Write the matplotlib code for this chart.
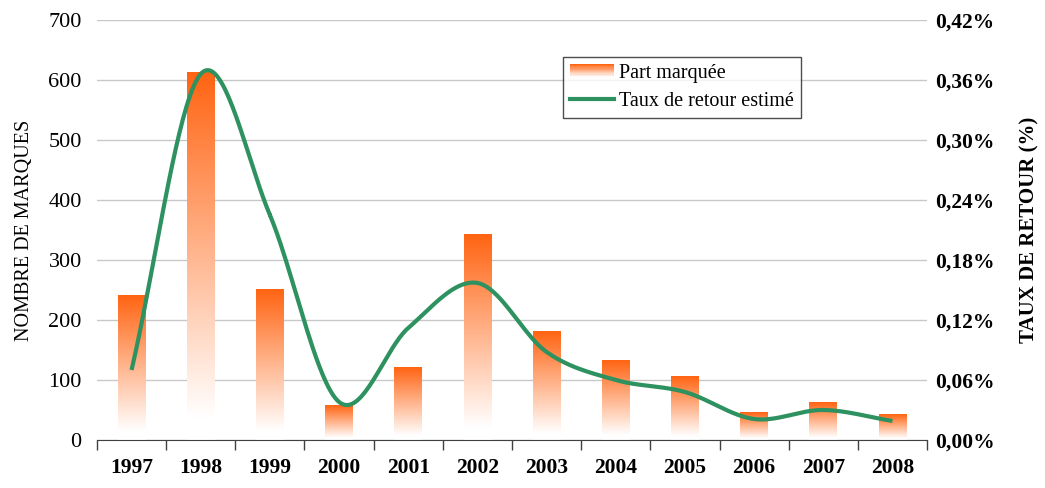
import numpy as np
import matplotlib.pyplot as plt
from matplotlib.colors import LinearSegmentedColormap
from matplotlib.legend_handler import HandlerBase
from matplotlib.patches import Rectangle
from matplotlib.lines import Line2D
from matplotlib.ticker import FuncFormatter, MultipleLocator

plt.rcParams['font.family'] = ['Liberation Serif', 'DejaVu Serif']

# ---------------- DATA ---------------- #

years = ["1997", "1998", "1999", "2000", "2001", "2002",
         "2003", "2004", "2005", "2006", "2007", "2008"]
marques = [240, 613, 250, 57, 120, 342, 180, 132, 105, 45, 62, 42]
taux_retour = [0.070, 0.366, 0.225, 0.038, 0.112, 0.157,
               0.088, 0.060, 0.048, 0.021, 0.030, 0.019]

orange = "#FF6412"
green = "#2E9160"
grad = LinearSegmentedColormap.from_list(
    "grad", [(0.0, "white"), (0.06, "white"), (1.0, orange)])


def catmull_rom(x, y, n=40):
    # smooth curve through every point, like a spreadsheet "smoothed line"
    x = np.asarray(x, float)
    y = np.asarray(y, float)
    px = np.concatenate([[2 * x[0] - x[1]], x, [2 * x[-1] - x[-2]]])
    py = np.concatenate([[2 * y[0] - y[1]], y, [2 * y[-1] - y[-2]]])
    xs, ys = [], []
    t = np.linspace(0, 1, n)
    for i in range(1, len(px) - 2):
        for p, out in ((px, xs), (py, ys)):
            p0, p1, p2, p3 = p[i - 1], p[i], p[i + 1], p[i + 2]
            out.append(0.5 * ((2 * p1) + (-p0 + p2) * t
                              + (2 * p0 - 5 * p1 + 4 * p2 - p3) * t ** 2
                              + (-p0 + 3 * p1 - 3 * p2 + p3) * t ** 3))
    return np.concatenate(xs), np.concatenate(ys)


class GradientHandler(HandlerBase):
    def create_artists(self, legend, orig_handle, xdescent, ydescent,
                       width, height, fontsize, trans):
        arts = []
        steps = 12
        for k in range(steps):
            r = Rectangle((-xdescent, -ydescent + height * k / steps),
                          width, height / steps + 0.3,
                          facecolor=grad(k / (steps - 1)), edgecolor="none",
                          transform=trans)
            arts.append(r)
        return arts


# ---------------- FIGURE ---------------- #

fig = plt.figure(figsize=(10.45, 4.88), dpi=100)
ax = fig.add_axes([0.0928, 0.0984, 0.7943, 0.8607])
ax2 = ax.twinx()

x = np.arange(len(years))
bar_w = 0.4

ax.grid(axis="y", color="#C8C8C8", linewidth=1)
ax.set_axisbelow(True)

gradient = np.linspace(0, 1, 256).reshape(-1, 1)
for xi, v in zip(x, marques):
    ax.imshow(gradient, cmap=grad, origin="lower", aspect="auto",
              extent=[xi - bar_w / 2, xi + bar_w / 2, 0, v], zorder=2)
ax.set_xlim(-0.5, len(years) - 0.5)
ax.set_ylim(0, 700)
ax.yaxis.set_major_locator(MultipleLocator(100))

sx, sy = catmull_rom(x, taux_retour)
ax2.plot(sx, sy, color=green, linewidth=3, solid_capstyle="butt", zorder=3)
ax2.set_ylim(0, 0.42)
ax2.yaxis.set_major_locator(MultipleLocator(0.06))
ax2.yaxis.set_major_formatter(
    FuncFormatter(lambda v, p: f"{v:.2f}%".replace(".", ",")))

for a in (ax, ax2):
    for side in ("top", "left", "right"):
        a.spines[side].set_visible(False)
ax.spines["bottom"].set_color("#404040")
ax2.spines["bottom"].set_visible(False)

# category ticks between the bars
ax.set_xticks(np.arange(-0.5, len(years), 1.0))
ax.set_xticklabels([])
ax.set_xticks(x, minor=True)
ax.set_xticklabels(years, minor=True, fontsize=15.5, fontweight="bold")
ax.tick_params(axis="x", which="major", length=7, color="#404040", width=1)
ax.tick_params(axis="x", which="minor", length=0, pad=13)

ax.tick_params(axis="y", length=0, labelsize=16, pad=11)
ax2.tick_params(axis="y", length=0, labelsize=15.5, pad=6)
for lab in ax2.get_yticklabels():
    lab.set_fontweight("bold")

ax.set_ylabel("NOMBRE DE MARQUES", fontsize=14.5, labelpad=10)
ax2.set_ylabel("TAUX DE RETOUR (%)", fontsize=15, fontweight="bold",
               labelpad=18)

bar_handle = Rectangle((0, 0), 1, 1)
line_handle = Line2D([], [], color=green, linewidth=3)
leg = ax2.legend([bar_handle, line_handle],
                 ["Part marquée", "Taux de retour estimé"],
                 handler_map={Rectangle: GradientHandler()},
                 loc="upper left", bbox_to_anchor=(0.561, 0.912),
                 fontsize=14.5, frameon=True, fancybox=False,
                 handlelength=2.2, handletextpad=0.25, borderpad=0.35,
                 labelspacing=0.45, borderaxespad=0)
leg.get_frame().set_edgecolor("#202020")
leg.get_frame().set_linewidth(1)

fig.savefig("out.png", dpi=100)
